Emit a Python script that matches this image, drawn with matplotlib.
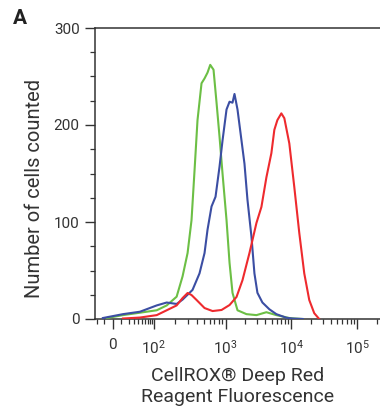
import numpy as np
import matplotlib
matplotlib.use("Agg")
import matplotlib.pyplot as plt
from matplotlib.ticker import FixedLocator, NullFormatter

plt.rcParams['font.family'] = ['Roboto', 'DejaVu Sans']
plt.rcParams['mathtext.fontset'] = 'custom'
plt.rcParams['mathtext.rm'] = 'Roboto'
plt.rcParams['mathtext.it'] = 'Roboto'

# ---------------- data ----------------
green_x = [-7, 12, 44, 110, 152, 209, 253, 297, 337, 371, 408, 464, 511, 562, 613,
           681, 750, 825, 908, 1035, 1150, 1276, 1520, 2081, 2950, 4180, 5926, 9326,
           11104, 15000]
green_y = [1, 4, 6.5, 9, 14, 23, 44, 68, 102, 153, 205, 243, 248, 254, 262,
           257, 223, 188, 150, 102, 58, 27, 9, 5, 4, 7, 4, 1, 0.5, 0]

blue_x = [-12, 12, 44, 110, 152, 209, 253, 348, 435, 511, 562, 639, 726, 825, 908,
          1035, 1150, 1276, 1368, 1520, 1748, 1941, 2154, 2477, 2750, 3054, 3636,
          4642, 5926, 8399, 10355, 15000]
blue_y = [1, 5, 7.5, 14, 17, 15.5, 20, 30, 47, 68, 92, 116, 126, 157, 184,
          216, 224, 223, 232, 216, 184, 160, 123, 85, 47, 27, 17, 10, 5, 1.3, 0.5, 0]

red_x = [12, 44, 110, 152, 209, 253, 297, 337, 396, 511, 660, 880, 1150, 1468, 1810,
         2310, 2950, 3511, 4180, 4977, 5521, 6136, 7055, 7834, 9326, 11104, 13219,
         15740, 18738, 22310, 26550]
red_y = [0.5, 1.5, 4, 9, 14, 21.6, 26.8, 24.7, 19.6, 11.3, 8.2, 9.3, 14.4, 22.7, 40,
         68, 99, 115.5, 146, 171, 195, 205, 212, 207, 181, 136, 88.7, 47, 19.6, 6, 0]

x_tick_values = [0, 100, 1000, 10000, 100000]
x_tick_labels = ['0', r'$10^{2}$', r'$10^{3}$', r'$10^{4}$', r'$10^{5}$']
y_tick_values = [0, 100, 200, 300]

# ---------------- logicle-like axis scale ----------------
_KV = np.array([-1e4, 0, 100, 1000, 1e4, 1e5, 1e6, 1e7])
_KU = np.arcsinh(_KV / 20.0) / np.log(10)
_KP = np.array([0, 113, 154, 226, 292, 358, 424, 490], dtype=float)
_KP[0] = 113 + (_KU[0] - _KU[1]) * (41 / _KU[2])


def fwd(v):
    v = np.asarray(v, dtype=float)
    u = np.arcsinh(v / 20.0) / np.log(10)
    return np.interp(u, _KU, _KP)


def inv(p):
    p = np.asarray(p, dtype=float)
    u = np.interp(p, _KP, _KU)
    return 20.0 * np.sinh(u * np.log(10))


fig = plt.figure(figsize=(3.8, 4.13), dpi=100)
ax = fig.add_axes([95 / 380, 94 / 413, 1 - 95 / 380, 291 / 413])
ax.set_xscale('function', functions=(fwd, inv))

ax.plot(green_x, green_y, color='#6cbf45', lw=1.5, zorder=3)
ax.plot(blue_x, blue_y, color='#3b4ea3', lw=1.5, zorder=3)
ax.plot(red_x, red_y, color='#ee2a2e', lw=1.5, zorder=3)

ax.set_xlim(inv(95), inv(381))
ax.set_ylim(0, 300)

minor_x = ([-20, -10] + list(range(10, 100, 10)) + list(range(200, 1000, 100))
           + list(range(2000, 10000, 1000)) + list(range(20000, 100000, 10000))
           + [200000])
ax.xaxis.set_major_locator(FixedLocator(x_tick_values))
ax.set_xticklabels(x_tick_labels)
ax.xaxis.set_minor_locator(FixedLocator(minor_x))
ax.xaxis.set_minor_formatter(NullFormatter())

ax.set_yticks(y_tick_values)
ax.yaxis.set_minor_locator(FixedLocator(np.arange(0, 301, 25)))

tc = '#333333'
ax.tick_params(axis='both', which='major', direction='out', length=7, width=1.0,
               colors=tc, labelsize=11, labelcolor=tc)
ax.tick_params(axis='both', which='minor', direction='out', length=3.5, width=0.9,
               colors=tc)
ax.tick_params(axis='x', which='major', pad=7)
ax.tick_params(axis='y', which='major', pad=4)

for s in ['left', 'top', 'bottom']:
    ax.spines[s].set_color(tc)
    ax.spines[s].set_linewidth(1.1)
ax.spines['right'].set_visible(False)

ax.set_ylabel('Number of cells counted', fontsize=14.5, color=tc)
ax.yaxis.set_label_coords(-0.18, 0.45)
ax.set_xlabel('CellROX® Deep Red\nReagent Fluorescence', fontsize=14, color=tc,
              linespacing=1.2, labelpad=8)

fig.text(20 / 380, 1 - 18 / 413, 'A', fontsize=15, fontweight='bold',
         ha='center', va='center', color='#222222')

fig.savefig('out.png', dpi=100)
